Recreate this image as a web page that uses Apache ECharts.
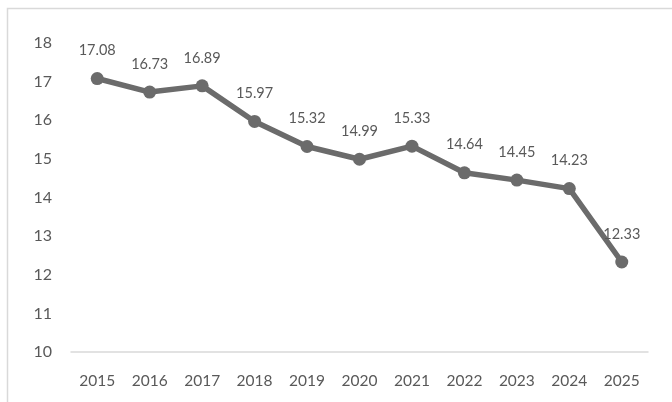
<!DOCTYPE html>
<html><head><meta charset="utf-8">
<script src="https://cdn.jsdelivr.net/npm/echarts@6/dist/echarts.min.js"></script>
<style>html,body{margin:0;padding:0;background:#fff}#c{width:672px;height:402px}</style>
</head><body><div id="c"></div>
<script>
const years = ['2015','2016','2017','2018','2019','2020','2021','2022','2023','2024','2025'];
const values = [17.08,16.73,16.89,15.97,15.32,14.99,15.33,14.64,14.45,14.23,12.33];
const yTicks = {min:10, max:18, interval:1};
const chart = echarts.init(document.getElementById('c'), null, {renderer:'canvas'});
chart.setOption({
  animation:false,
  backgroundColor:'#fff',
  graphic:[{type:'rect', shape:{x:7.5,y:8.5,width:700,height:450}, style:{fill:'none', stroke:'#d9d9d9', lineWidth:1.5}, silent:true}],
  grid:{left:71, right:24, top:43, bottom:50, containLabel:false},
  xAxis:{type:'category', data:years, boundaryGap:true,
    axisLine:{lineStyle:{color:'#d9d9d9', width:1.5}}, axisTick:{show:false},
    axisLabel:{color:'#595959', fontSize:15.5, fontFamily:'Lato', margin:21}},
  yAxis:{type:'value', min:yTicks.min, max:yTicks.max, interval:yTicks.interval,
    splitLine:{show:false}, axisLine:{show:false}, axisTick:{show:false},
    axisLabel:{color:'#595959', fontSize:16, fontFamily:'Lato', margin:19}},
  series:[{type:'line', data:values, symbol:'circle', symbolSize:13,
    lineStyle:{color:'#6b6b6b', width:5.5}, itemStyle:{color:'#6b6b6b'},
    label:{show:true, position:'top', distance:14, color:'#595959', fontSize:14.5, fontFamily:'Lato'}}]
});
</script></body></html>
